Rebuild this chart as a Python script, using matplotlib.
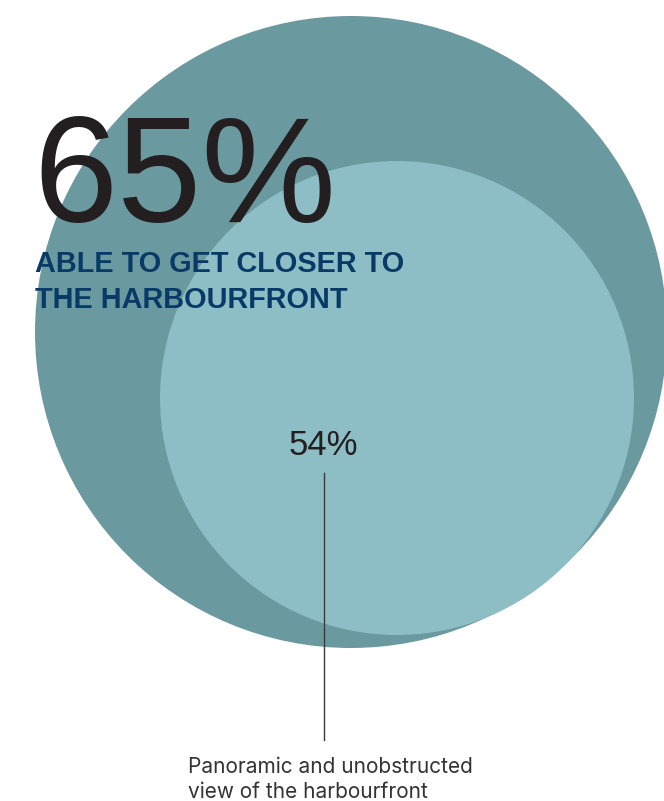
import matplotlib
matplotlib.use("Agg")
import matplotlib.pyplot as plt
from matplotlib.patches import Circle

# values shown on the chart
outer_value = "65%"
outer_label = ["ABLE TO GET CLOSER TO", "THE HARBOURFRONT"]
inner_value = "54%"
inner_label = ["Panoramic and unobstructed", "view of the harbourfront"]

outer_color = "#6a9aa0"
inner_color = "#8dbdc5"
text_dark = "#231f20"
navy = "#073a66"

plt.rcParams['font.family'] = ['Liberation Sans', 'DejaVu Sans']

fig = plt.figure(figsize=(6.64, 8.01), dpi=100)
ax = fig.add_axes([0, 0, 1, 1])
ax.set_xlim(0, 664)
ax.set_ylim(801, 0)
ax.set_aspect('equal')
ax.axis('off')

# circles
ax.add_patch(Circle((351, 332), 316, color=outer_color, lw=0))
ax.add_patch(Circle((397, 398), 237, color=inner_color, lw=0))

# big number + caption
ax.text(33, 222, outer_value, fontsize=109, color=text_dark, va='baseline', ha='left')
ax.text(35, 272, outer_label[0], fontsize=20.8, fontweight='bold', color=navy, va='baseline')
ax.text(35, 308, outer_label[1], fontsize=20.8, fontweight='bold', color=navy, va='baseline')

# inner value, leader line, caption
ax.text(323, 455, inner_value, fontsize=25, color=text_dark, va='baseline', ha='center')
ax.plot([324, 324], [473, 740], color="#3a3a3a", lw=1)
ax.text(188, 773, inner_label[0], fontsize=15, color="#333333", va='baseline',
        family=['Inter', 'DejaVu Sans'])
ax.text(188, 798, inner_label[1], fontsize=15, color="#333333", va='baseline',
        family=['Inter', 'DejaVu Sans'])

plt.savefig("out.png", dpi=100)
